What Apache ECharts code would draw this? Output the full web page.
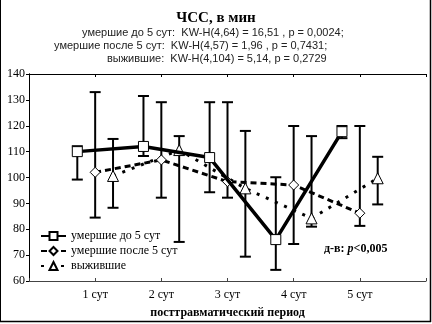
<!DOCTYPE html>
<html>
<head>
<meta charset="utf-8">
<script src="https://cdn.jsdelivr.net/npm/echarts@6/dist/echarts.min.js"></script>
<style>
html, body { margin: 0; padding: 0; background: #fff; }
#chart { width: 432px; height: 324px; }
</style>
</head>
<body>
<div id="chart"></div>
<script>
// Heart rate (ЧСС) by post-traumatic day, three patient groups: mean with whiskers
const days = [1, 2, 3, 4, 5];
const dayLabels = ['1 сут', '2 сут', '3 сут', '4 сут', '5 сут'];
const yTicks = [60, 70, 80, 90, 100, 110, 120, 130, 140];

const groupNames = ['умершие до 5 сут', 'умершие после 5 сут', 'выжившие'];

const died5Mean = [110, 112, 107.7, 76, 117.7];
const died5Low = [99.2, 108.3, 94.3, 64.3, 115.2];
const died5High = [112.1, 131.5, 129.1, 100.1, 119.9];

const diedAfterMean = [102, 106.8, 98.4, 97.1, 86.2];
const diedAfterLow = [84.5, 92.2, 92.2, 74.3, 81.3];
const diedAfterHigh = [133, 129.1, 129.1, 119.9, 119.9];

const survMean = [100.6, 110.6, 95.8, 84.2, 99.7];
const survLow = [88.3, 75.1, 69.4, 81.0, 89.6];
const survHigh = [114.9, 116.0, 118.0, 116.0, 108.0];

// horizontal shift of each group around its day
const groupShift = [-0.27, 0, 0.27];

const serif = '"Liberation Serif", "DejaVu Serif", serif';
const sans = '"Liberation Sans", Arial, sans-serif';

function points(mean, shift) {
  return days.map((d, i) => [d + shift, mean[i]]);
}
function whiskers(low, high, shift) {
  return days.map((d, i) => [d + shift, low[i], high[i]]);
}

function renderWhisker(params, api) {
  const x = api.value(0);
  const lo = api.coord([x, api.value(1)]);
  const hi = api.coord([x, api.value(2)]);
  const cap = 5.5;
  const style = { stroke: '#000', lineWidth: 2 };
  return {
    type: 'group',
    children: [
      { type: 'line', shape: { x1: lo[0], y1: lo[1], x2: hi[0], y2: hi[1] }, style },
      { type: 'line', shape: { x1: lo[0] - cap, y1: lo[1], x2: lo[0] + cap, y2: lo[1] }, style },
      { type: 'line', shape: { x1: hi[0] - cap, y1: hi[1], x2: hi[0] + cap, y2: hi[1] }, style }
    ]
  };
}

const markerStyle = { color: '#fff', borderColor: '#000', borderWidth: 1 };

const chart = echarts.init(document.getElementById('chart'), null, { renderer: 'canvas' });

chart.setOption({
  animation: false,
  backgroundColor: '#fff',
  title: [
    {
      text: 'ЧСС, в мин',
      left: 'center',
      top: 6,
      textStyle: { fontFamily: serif, fontSize: 15, fontWeight: 'bold', color: '#000' }
    }
  ],
  graphic: [
    { type: 'text', left: 82, top: 27, style: { text: 'умершие до 5 сут:  KW-H(4,64) = 16,51 , p = 0,0024;', font: '11px ' + sans, fill: '#222' } },
    { type: 'text', left: 54, top: 40, style: { text: 'умершие после 5 сут:  KW-H(4,57) = 1,96 , p = 0,7431;', font: '11px ' + sans, fill: '#222' } },
    { type: 'text', left: 107, top: 53, style: { text: 'выжившие:  KW-H(4,104) = 5,14, p = 0,2729', font: '11px ' + sans, fill: '#222' } },
    {
      type: 'text', left: 324, top: 243,
      style: {
        text: '{b|д-в: }{i|p}{b|<0,005}',
        rich: {
          b: { fontFamily: serif, fontSize: 12, fontWeight: 'bold', fill: '#000' },
          i: { fontFamily: serif, fontSize: 12, fontWeight: 'bold', fontStyle: 'italic', fill: '#000' }
        }
      }
    },
    // outer frame of the figure
    { type: 'line', shape: { x1: 0.5, y1: 0, x2: 0.5, y2: 322 }, style: { stroke: '#000', lineWidth: 1 } },
    { type: 'line', shape: { x1: 430.5, y1: 0, x2: 430.5, y2: 322 }, style: { stroke: '#000', lineWidth: 1.5 } },
    { type: 'line', shape: { x1: 0, y1: 321.5, x2: 431, y2: 321.5 }, style: { stroke: '#000', lineWidth: 1.5 } }
  ],
  legend: {
    data: groupNames,
    orient: 'vertical',
    left: 35,
    top: 225,
    itemWidth: 25,
    itemHeight: 10,
    itemGap: 3,
    textStyle: { fontFamily: serif, fontSize: 12, color: '#000' }
  },
  grid: { left: 29, top: 74, right: 6, bottom: 43, containLabel: false },
  xAxis: [
    {
      type: 'value',
      min: 0, max: 6, interval: 1,
      name: 'посттравматический период',
      nameLocation: 'middle',
      nameGap: 26,
      nameTextStyle: { fontFamily: serif, fontSize: 12, fontWeight: 'bold', color: '#000' },
      axisLine: { lineStyle: { color: '#444', width: 1 } },
      axisTick: { inside: true, length: 3, lineStyle: { color: '#444' } },
      axisLabel: {
        margin: 8,
        fontFamily: serif, fontSize: 12, color: '#000',
        formatter: v => (v >= 1 && v <= 5 ? dayLabels[v - 1] : '')
      },
      splitLine: { show: false }
    },
    {
      type: 'value', position: 'top',
      min: 0, max: 6, interval: 1,
      axisLine: { lineStyle: { color: '#000', width: 1 } },
      axisTick: { inside: true, length: 3, lineStyle: { color: '#000' } },
      axisLabel: { show: false },
      splitLine: { show: false }
    }
  ],
  yAxis: [
    {
      type: 'value',
      min: yTicks[0], max: yTicks[yTicks.length - 1], interval: 10,
      axisLine: { show: true, lineStyle: { color: '#000', width: 1 } },
      axisTick: { show: true, length: 3, lineStyle: { color: '#000' } },
      axisLabel: { margin: 4, fontFamily: serif, fontSize: 12, color: '#000' },
      splitLine: { show: false }
    },
    {
      type: 'value', position: 'right',
      min: yTicks[0], max: yTicks[yTicks.length - 1], interval: 10,
      axisLine: { show: true, lineStyle: { color: '#000', width: 1 } },
      axisTick: { show: true, inside: true, length: 3, lineStyle: { color: '#000' } },
      axisLabel: { show: false },
      splitLine: { show: false }
    }
  ],
  series: [
    { type: 'custom', name: 'w1', renderItem: renderWhisker, data: whiskers(died5Low, died5High, groupShift[0]), z: 1, silent: true },
    { type: 'custom', name: 'w2', renderItem: renderWhisker, data: whiskers(diedAfterLow, diedAfterHigh, groupShift[1]), z: 1, silent: true },
    { type: 'custom', name: 'w3', renderItem: renderWhisker, data: whiskers(survLow, survHigh, groupShift[2]), z: 1, silent: true },
    {
      type: 'line', name: groupNames[0],
      data: points(died5Mean, groupShift[0]),
      symbol: 'rect', symbolSize: 10, showAllSymbol: true,
      lineStyle: { color: '#000', width: 3.5, type: 'solid' },
      itemStyle: markerStyle, z: 4
    },
    {
      type: 'line', name: groupNames[1],
      data: points(diedAfterMean, groupShift[1]),
      symbol: 'diamond', symbolSize: 10,
      lineStyle: { color: '#000', width: 3, type: [6, 4] },
      itemStyle: markerStyle, z: 3
    },
    {
      type: 'line', name: groupNames[2],
      data: points(survMean, groupShift[2]),
      symbol: 'triangle', symbolSize: 11,
      lineStyle: { color: '#000', width: 3, type: [3, 7] },
      itemStyle: markerStyle, z: 3
    }
  ]
});
</script>
</body>
</html>
